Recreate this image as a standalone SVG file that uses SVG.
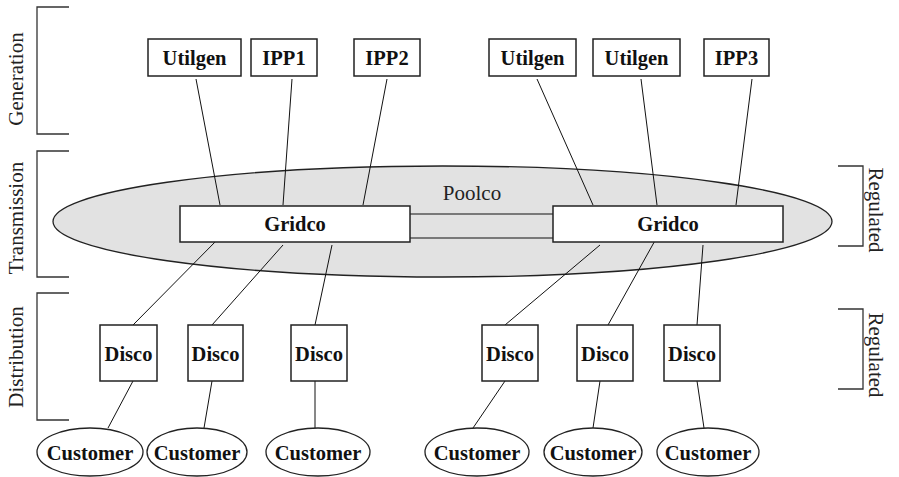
<svg xmlns="http://www.w3.org/2000/svg" width="899" height="477" viewBox="0 0 899 477">
<style>
.box{fill:#fff;stroke:#222;stroke-width:1.5}
.cust{fill:#fff;stroke:#222;stroke-width:1.3}
.b{font-family:"Liberation Serif","Times New Roman",serif;font-weight:bold;font-size:20.5px;text-anchor:middle;fill:#111}
.r{font-family:"Liberation Serif","Times New Roman",serif;font-size:21px;text-anchor:middle;fill:#222}
.ln{stroke:#111;stroke-width:1;fill:none}
.br{stroke:#333;stroke-width:1.3;fill:none}
</style>
<rect width="899" height="477" fill="#fff"/>
<g id="brackets">
<path class="br" d="M69,7H37V134H69"/>
<path class="br" d="M69,151H37V277H69"/>
<path class="br" d="M69,293H37V420H69"/>
<path class="br" d="M838,166H863V246H838"/>
<path class="br" d="M838,309H863V389H838"/>
<text class="r" transform="translate(23,79) rotate(-90)">Generation</text>
<text class="r" transform="translate(23,218) rotate(-90)">Transmission</text>
<text class="r" transform="translate(23,357) rotate(-90)">Distribution</text>
<text class="r" transform="translate(869,210) rotate(90)">Regulated</text>
<text class="r" transform="translate(869,355) rotate(90)">Regulated</text>
</g>
<g id="poolco">
<ellipse cx="442.5" cy="221.5" rx="389.5" ry="55.5" fill="#e2e2e2" stroke="#222" stroke-width="1.3"/>
<text class="r" x="472" y="200">Poolco</text>
</g>
<g id="connectors">
<line class="ln" x1="410" y1="214" x2="553" y2="214"/>
<line class="ln" x1="410" y1="238" x2="553" y2="238"/>
<line class="ln" x1="196" y1="79" x2="220" y2="205"/>
<line class="ln" x1="292" y1="79" x2="283" y2="205"/>
<line class="ln" x1="387" y1="79" x2="363" y2="205"/>
<line class="ln" x1="537" y1="79" x2="593" y2="205"/>
<line class="ln" x1="641" y1="79" x2="657" y2="205"/>
<line class="ln" x1="752" y1="79" x2="736" y2="205"/>
<line class="ln" x1="220" y1="237" x2="133" y2="325"/>
<line class="ln" x1="283" y1="245" x2="212" y2="325"/>
<line class="ln" x1="332" y1="245" x2="315" y2="325"/>
<line class="ln" x1="600" y1="245" x2="505" y2="325"/>
<line class="ln" x1="657" y1="237" x2="608" y2="325"/>
<line class="ln" x1="703" y1="245" x2="697" y2="325"/>
<line class="ln" x1="133" y1="381" x2="108" y2="428"/>
<line class="ln" x1="212" y1="381" x2="204" y2="428"/>
<line class="ln" x1="315" y1="381" x2="315" y2="428"/>
<line class="ln" x1="505" y1="381" x2="473" y2="428"/>
<line class="ln" x1="600" y1="381" x2="593" y2="428"/>
<line class="ln" x1="697" y1="381" x2="704" y2="428"/>
</g>
<g id="utilgen1"><rect class="box" x="148" y="39" width="93" height="37"/><text class="b" x="194.5" y="64.5">Utilgen</text></g>
<g id="ipp1"><rect class="box" x="251" y="39" width="66" height="37"/><text class="b" x="284" y="64.5">IPP1</text></g>
<g id="ipp2"><rect class="box" x="354" y="39" width="66" height="37"/><text class="b" x="387" y="64.5">IPP2</text></g>
<g id="utilgen2"><rect class="box" x="489" y="39" width="87" height="37"/><text class="b" x="532.5" y="64.5">Utilgen</text></g>
<g id="utilgen3"><rect class="box" x="593" y="39" width="87" height="37"/><text class="b" x="636.5" y="64.5">Utilgen</text></g>
<g id="ipp3"><rect class="box" x="704" y="39" width="65" height="37"/><text class="b" x="736.5" y="64.5">IPP3</text></g>
<g id="gridco1"><rect class="box" x="180" y="206" width="230" height="36"/><text class="b" x="295" y="231">Gridco</text></g>
<g id="gridco2"><rect class="box" x="553" y="206" width="230" height="36"/><text class="b" x="668" y="231">Gridco</text></g>
<g id="disco1"><rect class="box" x="100" y="325" width="57" height="56"/><text class="b" x="128.5" y="361">Disco</text></g>
<g id="disco2"><rect class="box" x="188" y="325" width="55" height="56"/><text class="b" x="215.5" y="361">Disco</text></g>
<g id="disco3"><rect class="box" x="291" y="325" width="56" height="56"/><text class="b" x="319" y="361">Disco</text></g>
<g id="disco4"><rect class="box" x="482" y="325" width="56" height="56"/><text class="b" x="510" y="361">Disco</text></g>
<g id="disco5"><rect class="box" x="577" y="325" width="56" height="56"/><text class="b" x="605" y="361">Disco</text></g>
<g id="disco6"><rect class="box" x="664" y="325" width="56" height="56"/><text class="b" x="692" y="361">Disco</text></g>
<g id="customer1"><ellipse class="cust" cx="90" cy="452" rx="53" ry="24"/><text class="b" x="90" y="460">Customer</text></g>
<g id="customer2"><ellipse class="cust" cx="197" cy="452" rx="50" ry="24"/><text class="b" x="197" y="460">Customer</text></g>
<g id="customer3"><ellipse class="cust" cx="318" cy="452" rx="52" ry="24"/><text class="b" x="318" y="460">Customer</text></g>
<g id="customer4"><ellipse class="cust" cx="477" cy="452" rx="52" ry="24"/><text class="b" x="477" y="460">Customer</text></g>
<g id="customer5"><ellipse class="cust" cx="593" cy="452" rx="49" ry="24"/><text class="b" x="593" y="460">Customer</text></g>
<g id="customer6"><ellipse class="cust" cx="708" cy="452" rx="51" ry="24"/><text class="b" x="708" y="460">Customer</text></g>
</svg>
